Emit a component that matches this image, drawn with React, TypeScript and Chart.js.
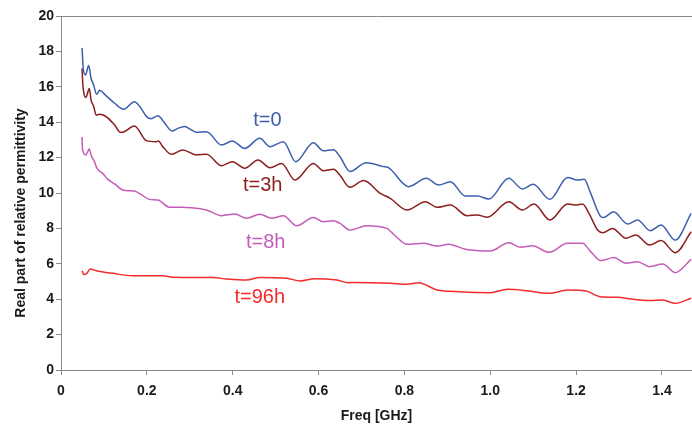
import { useEffect, useRef } from "react";
import { Chart, registerables } from "chart.js";
Chart.register(...registerables);

// t=0
const freq0 = [0.049, 0.052, 0.057, 0.0645, 0.07, 0.076, 0.083, 0.09, 0.103, 0.125, 0.146, 0.171, 0.183, 0.2, 0.21, 0.226, 0.237, 0.259, 0.272, 0.288, 0.304, 0.315, 0.339, 0.374, 0.399, 0.428, 0.463, 0.487, 0.518, 0.547, 0.588, 0.611, 0.635, 0.65, 0.673, 0.711, 0.751, 0.763, 0.81, 0.851, 0.88, 0.907, 0.942, 0.97, 0.997, 1.043, 1.075, 1.1, 1.139, 1.18, 1.203, 1.219, 1.234, 1.258, 1.264, 1.287, 1.32, 1.343, 1.373, 1.398, 1.431, 1.468];
const eps0 = [18.2, 17.0, 16.67, 17.2, 16.5, 16.1, 15.58, 15.8, 15.54, 15.07, 14.73, 15.16, 14.9, 14.3, 14.2, 14.37, 14.1, 13.5, 13.65, 13.75, 13.56, 13.43, 13.46, 12.71, 12.94, 12.52, 13.09, 12.62, 12.9, 11.77, 12.84, 12.38, 12.45, 12.05, 11.22, 11.71, 11.49, 11.43, 10.36, 10.83, 10.45, 10.64, 9.83, 9.83, 9.66, 10.83, 10.23, 10.49, 9.64, 10.88, 10.73, 10.77, 9.98, 8.66, 8.62, 8.94, 8.25, 8.47, 7.87, 8.19, 7.34, 8.85];

// t=3h
const freq3 = [0.049, 0.051, 0.058, 0.066, 0.07, 0.076, 0.082, 0.09, 0.103, 0.125, 0.138, 0.146, 0.171, 0.199, 0.222, 0.227, 0.237, 0.257, 0.284, 0.315, 0.339, 0.374, 0.399, 0.428, 0.459, 0.487, 0.514, 0.545, 0.588, 0.611, 0.635, 0.65, 0.673, 0.705, 0.744, 0.767, 0.806, 0.849, 0.876, 0.907, 0.946, 0.97, 0.993, 1.043, 1.075, 1.102, 1.139, 1.18, 1.2, 1.215, 1.23, 1.25, 1.262, 1.285, 1.316, 1.339, 1.371, 1.398, 1.431, 1.468];
const eps3 = [17.04, 16.1, 15.4, 15.9, 15.25, 14.9, 14.4, 14.45, 14.35, 13.84, 13.43, 13.45, 13.79, 12.96, 12.9, 12.94, 12.62, 12.19, 12.43, 12.15, 12.19, 11.54, 11.77, 11.4, 11.86, 11.43, 11.67, 10.73, 11.67, 11.26, 11.34, 11.0, 10.32, 10.7, 9.98, 9.7, 9.04, 9.51, 9.19, 9.32, 8.72, 8.76, 8.63, 9.51, 9.04, 9.38, 8.47, 9.38, 9.32, 9.38, 8.85, 7.91, 7.76, 8.0, 7.44, 7.63, 7.06, 7.31, 6.63, 7.81];

// t=8h
const freq8 = [0.049, 0.05, 0.058, 0.066, 0.07, 0.078, 0.084, 0.097, 0.109, 0.125, 0.144, 0.171, 0.185, 0.206, 0.226, 0.253, 0.28, 0.304, 0.339, 0.374, 0.405, 0.432, 0.463, 0.491, 0.518, 0.549, 0.588, 0.611, 0.635, 0.65, 0.673, 0.712, 0.759, 0.779, 0.806, 0.845, 0.876, 0.903, 0.942, 1.0, 1.043, 1.071, 1.098, 1.137, 1.18, 1.215, 1.234, 1.257, 1.288, 1.316, 1.343, 1.371, 1.402, 1.431, 1.468];
const eps8 = [13.16, 12.47, 12.15, 12.49, 12.15, 11.77, 11.39, 11.11, 10.77, 10.51, 10.17, 10.11, 9.94, 9.64, 9.6, 9.19, 9.19, 9.17, 9.04, 8.72, 8.81, 8.57, 8.8, 8.57, 8.72, 8.15, 8.62, 8.38, 8.43, 8.28, 7.91, 8.15, 8.0, 7.57, 7.1, 7.16, 7.0, 7.1, 6.82, 6.72, 7.19, 6.93, 7.02, 6.65, 7.16, 7.16, 6.69, 6.18, 6.35, 6.03, 6.12, 5.84, 5.99, 5.5, 6.25];

// t=96h
const freq96 = [0.049, 0.053, 0.06, 0.068, 0.082, 0.121, 0.167, 0.237, 0.261, 0.354, 0.386, 0.432, 0.463, 0.526, 0.557, 0.592, 0.643, 0.67, 0.681, 0.767, 0.806, 0.833, 0.876, 0.93, 1.0, 1.04, 1.086, 1.137, 1.18, 1.223, 1.257, 1.297, 1.328, 1.371, 1.402, 1.431, 1.468];
const eps96 = [5.61, 5.4, 5.46, 5.71, 5.61, 5.46, 5.33, 5.33, 5.24, 5.22, 5.14, 5.08, 5.22, 5.18, 5.03, 5.16, 5.08, 4.93, 4.95, 4.9, 4.84, 4.93, 4.52, 4.42, 4.37, 4.56, 4.48, 4.33, 4.52, 4.46, 4.14, 4.11, 4.01, 3.92, 3.95, 3.77, 4.05];

const seriesNames = ["t=0", "t=3h", "t=8h", "t=96h"];
const seriesColors = ["#3e5eae", "#8b1f1f", "#c45cb8", "#f52a2a"];
const labelX = [0.481, 0.470, 0.477, 0.463];
const labelY = [14.1, 10.45, 7.2, 4.1];

const xTitle = "Freq [GHz]";
const yTitle = "Real part of relative permittivity";

const FONT = "'Liberation Sans', Arial, Helvetica, sans-serif";

const annotPlugin = {
  id: "annot",
  afterDraw(chart: any) {
    const { ctx, chartArea, scales } = chart;
    ctx.save();
    // top border
    ctx.strokeStyle = "#8a8a8a";
    ctx.lineWidth = 1;
    ctx.beginPath();
    ctx.moveTo(chartArea.left, chartArea.top + 0.5);
    ctx.lineTo(chartArea.right, chartArea.top + 0.5);
    ctx.stroke();
    // series labels
    ctx.font = `20px ${FONT}`;
    ctx.textAlign = "center";
    ctx.textBaseline = "middle";
    seriesNames.forEach((n, i) => {
      ctx.fillStyle = seriesColors[i];
      ctx.fillText(n, scales.x.getPixelForValue(labelX[i]), scales.y.getPixelForValue(labelY[i]));
    });
    // y title
    ctx.translate(21, 213);
    ctx.rotate(-Math.PI / 2);
    ctx.font = `bold 14px ${FONT}`;
    ctx.fillStyle = "#1a1a1a";
    ctx.fillText(yTitle, 0, 0);
    ctx.restore();
  },
};

export default function App() {
  const ref = useRef<HTMLCanvasElement>(null);
  useEffect(() => {
    document.body.style.margin = "0";
    const sets = [
      [freq0, eps0],
      [freq3, eps3],
      [freq8, eps8],
      [freq96, eps96],
    ];
    const chart = new Chart(ref.current!, {
      type: "line",
      data: {
        datasets: sets.map(([fx, fy], i) => ({
          label: seriesNames[i],
          data: fx.map((x, j) => ({ x, y: fy[j] })),
          borderColor: seriesColors[i],
          borderWidth: 1.5,
          pointRadius: 0,
          cubicInterpolationMode: "monotone" as const,
          fill: false,
        })),
      },
      options: {
        responsive: false,
        animation: false,
        layout: { padding: { top: 16, right: 0, left: 0, bottom: 0 } },
        plugins: { legend: { display: false }, tooltip: { enabled: false } },
        scales: {
          x: {
            type: "linear",
            min: 0,
            max: 1.47,
            afterFit: (s: any) => {
              s.height = 55;
            },
            ticks: {
              stepSize: 0.2,
              includeBounds: false,
              color: "#1a1a1a",
              padding: 8,
              font: { family: FONT, size: 14, weight: "bold" },
            },
            grid: { drawOnChartArea: false, tickLength: 5, color: "#8a8a8a" },
            border: { color: "#8a8a8a" },
            title: {
              display: true,
              text: xTitle,
              color: "#1a1a1a",
              font: { family: FONT, size: 14, weight: "bold" },
              padding: { top: 0, bottom: 0 },
            },
          },
          y: {
            min: 0,
            max: 20,
            afterFit: (s: any) => {
              s.width = 61;
            },
            ticks: {
              stepSize: 2,
              includeBounds: false,
              color: "#1a1a1a",
              padding: 2,
              font: { family: FONT, size: 14, weight: "bold" },
            },
            grid: { drawOnChartArea: false, tickLength: 5, color: "#8a8a8a" },
            border: { color: "#8a8a8a" },
          },
        },
      },
      plugins: [annotPlugin],
    });
    return () => chart.destroy();
  }, []);
  return (
    <div style={{ width: 692, height: 425 }}>
      <canvas ref={ref} width={692} height={425} />
    </div>
  );
}
